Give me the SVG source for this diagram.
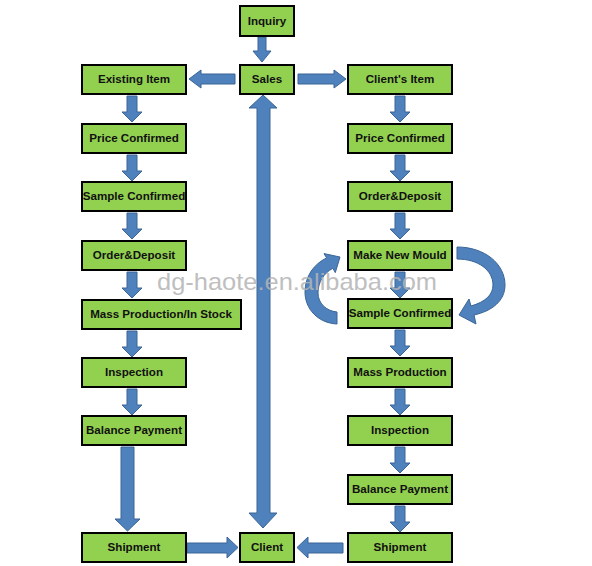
<svg xmlns="http://www.w3.org/2000/svg" width="592" height="566" viewBox="0 0 592 566">
<style>
.box{fill:#92d050;stroke:#000;stroke-width:2}
.t{font-family:"Liberation Sans",Arial,sans-serif;font-weight:bold;font-size:11.6px;fill:#111;text-anchor:middle}
.ar{fill:#4f81bd;stroke:#3a6595;stroke-width:1}
.wm{font-family:"Liberation Sans",Arial,sans-serif;font-size:24px;fill:#b4b4b4;opacity:0.85}
</style>
<defs>
<path id="dn" d="M-5,0 H5 V16 H10 L0,26 L-10,16 H-5 Z"/>
</defs>
<rect width="592" height="566" fill="#fff"/>
<g id="connectors">
<path class="ar" d="M258,37 H266 V51 H271 L262,62 L253,51 H258 Z"/>
<path class="ar" d="M235,74 V84 H201 V88 L189,79 L201,70 V74 Z"/>
<path class="ar" d="M298,74 V84 H334 V88 L346,79 L334,70 V74 Z"/>
<use href="#dn" class="ar" x="132" y="96"/>
<use href="#dn" class="ar" x="132" y="155"/>
<use href="#dn" class="ar" x="132" y="213"/>
<use href="#dn" class="ar" x="132" y="272"/>
<use href="#dn" class="ar" x="132" y="331"/>
<use href="#dn" class="ar" x="132" y="389"/>
<path class="ar" d="M121,447 H134 V519 H140 L127.5,531 L115,519 H121 Z"/>
<use href="#dn" class="ar" x="400" y="96"/>
<use href="#dn" class="ar" x="400" y="155"/>
<use href="#dn" class="ar" x="400" y="213"/>
<use href="#dn" class="ar" x="400" y="272"/>
<use href="#dn" class="ar" x="400" y="330"/>
<use href="#dn" class="ar" x="400" y="389"/>
<use href="#dn" class="ar" x="400" y="447"/>
<use href="#dn" class="ar" x="400" y="506"/>
<path class="ar" d="M263,95 L277,108 H270 V513 H277 L263,528 L249,513 H257 V108 H249 Z"/>
<path class="ar" d="M187,543 H227 V537 L238,547.5 L227,558 V553 H187 Z"/>
<path class="ar" d="M343,543 V553 H308 V558 L297,547.5 L308,537 V543 Z"/>
<path class="ar" d="M337,324 C318,323 305,309 305,292 C305,276 314,264 326.6,257.9 L324,253.6 L340,257 L335.3,272.6 L332.8,268.3 C324,273 318,282 318,293 C318,303 326,311 337,312 Z"/>
<path class="ar" d="M457,247 C485,247 505,264 505,285 C505,301 492,311 474,315 L476,324 L459,315 L469,299 L471,306 C485,302 493,295 493,285 C493,270 478,259 457,259 Z"/>
</g>
<g id="n-inquiry"><rect class="box" x="240" y="6" width="54" height="30"/><text class="t" x="267" y="25">Inquiry</text></g>
<g id="n-sales"><rect class="box" x="240" y="65" width="54" height="29"/><text class="t" x="267" y="83">Sales</text></g>
<g id="n-existing"><rect class="box" x="82" y="65" width="104" height="29"/><text class="t" x="134" y="83">Existing Item</text></g>
<g id="n-price-l"><rect class="box" x="82" y="124" width="104" height="29"/><text class="t" x="134" y="142">Price Confirmed</text></g>
<g id="n-sample-l"><rect class="box" x="82" y="182" width="104" height="29"/><text class="t" x="134" y="200">Sample Confirmed</text></g>
<g id="n-order-l"><rect class="box" x="82" y="241" width="104" height="29"/><text class="t" x="134" y="259">Order&amp;Deposit</text></g>
<g id="n-mass-l"><rect class="box" x="82" y="300" width="159" height="29"/><text class="t" x="161" y="318">Mass Production/In Stock</text></g>
<g id="n-insp-l"><rect class="box" x="82" y="358" width="104" height="29"/><text class="t" x="134" y="376">Inspection</text></g>
<g id="n-bal-l"><rect class="box" x="82" y="416" width="104" height="29"/><text class="t" x="134" y="434">Balance Payment</text></g>
<g id="n-ship-l"><rect class="box" x="82" y="533" width="104" height="29"/><text class="t" x="134" y="551">Shipment</text></g>
<g id="n-client"><rect class="box" x="240" y="533" width="54" height="29"/><text class="t" x="267" y="551">Client</text></g>
<g id="n-clients-item"><rect class="box" x="348" y="65" width="104" height="29"/><text class="t" x="400" y="83">Client's Item</text></g>
<g id="n-price-r"><rect class="box" x="348" y="124" width="104" height="29"/><text class="t" x="400" y="142">Price Confirmed</text></g>
<g id="n-order-r"><rect class="box" x="348" y="182" width="104" height="29"/><text class="t" x="400" y="200">Order&amp;Deposit</text></g>
<g id="n-mould"><rect class="box" x="348" y="241" width="104" height="29"/><text class="t" x="400" y="259">Make New Mould</text></g>
<g id="n-sample-r"><rect class="box" x="348" y="299" width="104" height="29"/><text class="t" x="400" y="317">Sample Confirmed</text></g>
<g id="n-mass-r"><rect class="box" x="348" y="358" width="104" height="29"/><text class="t" x="400" y="376">Mass Production</text></g>
<g id="n-insp-r"><rect class="box" x="348" y="416" width="104" height="29"/><text class="t" x="400" y="434">Inspection</text></g>
<g id="n-bal-r"><rect class="box" x="348" y="475" width="104" height="29"/><text class="t" x="400" y="493">Balance Payment</text></g>
<g id="n-ship-r"><rect class="box" x="348" y="533" width="104" height="29"/><text class="t" x="400" y="551">Shipment</text></g>
<text class="wm" x="157" y="290" textLength="280" lengthAdjust="spacingAndGlyphs">dg-haote.en.alibaba.com</text>
</svg>
